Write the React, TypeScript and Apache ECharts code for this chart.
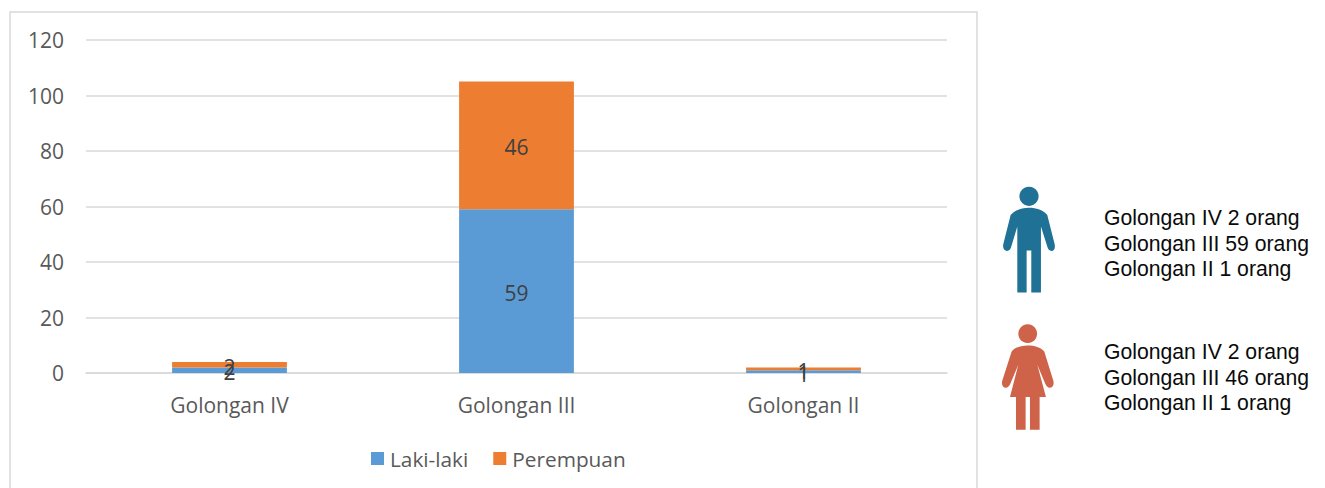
import React, { useEffect, useRef } from "react";
import * as echarts from "echarts";

const categories = ["Golongan IV", "Golongan III", "Golongan II"];
const lakiLaki = [2, 59, 1];
const perempuan = [2, 46, 1];
const maleNotes = ["Golongan IV 2 orang", "Golongan III 59 orang", "Golongan II 1 orang"];
const femaleNotes = ["Golongan IV 2 orang", "Golongan III 46 orang", "Golongan II 1 orang"];

const FONT = "'Open Sans', sans-serif";
const GREY = "#d9d9d9";

const MALE =
  "M117 113 C95 113 75 120 62 135 L40 222 C37 236 44 243 51 243 C58 243 62 238 64 230 L82 170 L82 368 L110 368 L110 242 L124 242 L124 368 L153 368 L153 170 L172 230 C174 238 178 243 185 243 C192 243 197 236 194 222 L172 135 C160 120 139 113 117 113 Z";
const FEMALE =
  "M113 527 C92 527 75 533 65 545 L37 632 C33 645 40 654 47 654 C54 654 58 649 61 642 L85 585 L60 682 L78 682 L78 780 L107 780 L107 682 L120 682 L120 780 L149 780 L149 682 L168 682 L142 585 L166 642 C169 649 173 654 180 654 C187 654 194 645 190 632 L163 545 C152 533 134 527 113 527 Z";

echarts.graphic.registerShape("maleBody", echarts.graphic.extendPath(MALE, {}) as any);
echarts.graphic.registerShape("femaleBody", echarts.graphic.extendPath(FEMALE, {}) as any);

const noteTexts = (lines: string[], ys: number[]) =>
  lines.map((t, i) => ({
    type: "text",
    x: 1104,
    y: ys[i],
    style: {
      text: t,
      fill: "#0a0a0a",
      font: "21.2px 'Liberation Sans', Arial, sans-serif",
      textVerticalAlign: "middle",
      verticalAlign: "middle",
    },
  }));

export default function App() {
  const ref = useRef<HTMLDivElement>(null);
  useEffect(() => {
    document.body.style.margin = "0";
    const chart = echarts.init(ref.current!, undefined, { renderer: "svg" });
    const label = {
      show: true,
      position: "inside" as const,
      color: "#404040",
      fontFamily: FONT,
      fontSize: 21,
      offset: [0, 2],
    };
    chart.setOption({
      animation: false,
      backgroundColor: "#ffffff",
      grid: { left: 86, right: 378, top: 40, bottom: 115 },
      legend: {
        left: 366,
        top: 443,
        itemWidth: 13,
        itemHeight: 13,
        itemGap: 25,
        icon: "rect",
        textStyle: { color: "#595959", fontFamily: FONT, fontSize: 20.8, padding: [0, 0, 3, 1] },
        data: ["Laki-laki", "Perempuan"],
      },
      xAxis: {
        type: "category",
        data: categories,
        axisTick: { show: false },
        axisLine: { lineStyle: { color: GREY, width: 1.5 } },
        axisLabel: { color: "#595959", fontFamily: FONT, fontSize: 21, margin: 21 },
      },
      yAxis: {
        type: "value",
        min: 0,
        max: 120,
        interval: 20,
        axisLine: { show: false },
        axisTick: { show: false },
        splitLine: { lineStyle: { color: GREY, width: 1.5 } },
        axisLabel: { color: "#595959", fontFamily: FONT, fontSize: 21, margin: 22, padding: [2, 0, 0, 0] },
      },
      series: [
        { name: "Laki-laki", type: "bar", stack: "t", data: lakiLaki, barWidth: "40%", itemStyle: { color: "#5b9bd5" }, label },
        { name: "Perempuan", type: "bar", stack: "t", data: perempuan, barWidth: "40%", itemStyle: { color: "#ed7d31" }, label },
      ],
      graphic: [
        {
          type: "polyline",
          silent: true,
          shape: { points: [[10, 488], [10, 12], [977, 12], [977, 488]] },
          style: { fill: "none", stroke: GREY, lineWidth: 1.5 },
        },
        { type: "circle", shape: { cx: 1029, cy: 196.3, r: 9.6 }, style: { fill: "#1f7196" } },
        { type: "maleBody", x: 990, y: 170, scaleX: 1 / 3, scaleY: 1 / 3, style: { fill: "#1f7196" } },
        { type: "circle", shape: { cx: 1027.7, cy: 333.7, r: 9.4 }, style: { fill: "#cf6349" } },
        { type: "femaleBody", x: 990, y: 170, scaleX: 1 / 3, scaleY: 1 / 3, style: { fill: "#cf6349" } },
        ...noteTexts(maleNotes, [217, 243, 268]),
        ...noteTexts(femaleNotes, [351, 377, 402]),
      ],
    });
    return () => chart.dispose();
  }, []);
  return <div ref={ref} style={{ width: 1325, height: 488 }} />;
}
